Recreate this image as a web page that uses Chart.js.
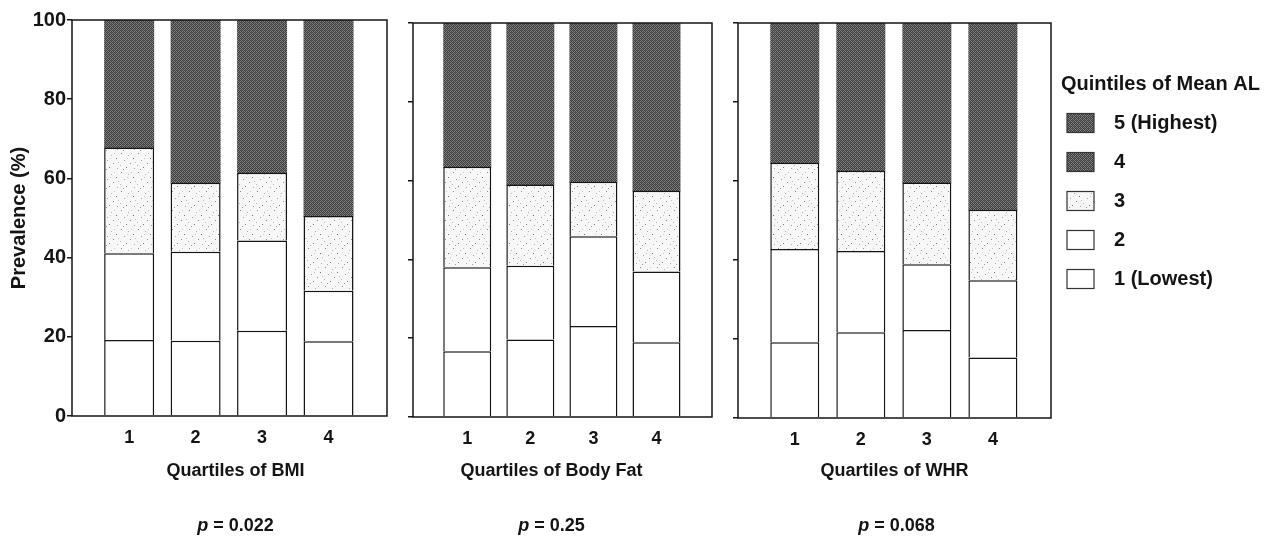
<!DOCTYPE html>
<html>
<head>
<meta charset="utf-8">
<script src="https://cdn.jsdelivr.net/npm/chart.js@4"></script>
<style>
  html, body { margin: 0; padding: 0; background: #fff; width: 1271px; height: 541px; overflow: hidden; }
  canvas { position: absolute; top: 0; }
</style>
</head>
<body>
<canvas id="bmi" style="left:0px" width="400" height="541"></canvas>
<canvas id="fat" style="left:400px" width="325" height="541"></canvas>
<canvas id="whr" style="left:725px" width="546" height="541"></canvas>
<script>
// Prevalence (%) of each mean-AL quintile, by quartile of adiposity measure
const quartiles = ['1', '2', '3', '4'];
const quintileLabels = ['1 (Lowest)', '2', '3', '4', '5 (Highest)'];
const legendTitle = 'Quintiles of Mean AL';
const panelTitles = ['Quartiles of BMI', 'Quartiles of Body Fat', 'Quartiles of WHR'];
const pValues = ['0.022', '0.25', '0.068'];
const yTickStep = 20;

// BMI
const bmiQ1 = [19.2, 19.0, 21.5, 18.9];
const bmiQ2 = [21.9, 22.5, 22.8, 12.7];
const bmiQ3 = [26.7, 17.4, 17.1, 18.9];
const bmiQ4 = [14.2, 20.1, 18.6, 24.5];
const bmiQ5 = [18.0, 21.0, 20.0, 25.0];

// Body fat
const fatQ1 = [16.7, 19.7, 23.1, 19.0];
const fatQ2 = [21.3, 18.7, 22.8, 17.9];
const fatQ3 = [25.5, 20.6, 13.8, 20.5];
const fatQ4 = [17.5, 20.0, 19.3, 21.6];
const fatQ5 = [19.0, 21.0, 21.0, 21.0];

// Waist-hip ratio
const whrQ1 = [19.2, 21.7, 22.3, 15.3];
const whrQ2 = [23.6, 20.6, 16.6, 19.6];
const whrQ3 = [21.8, 20.3, 20.7, 17.8];
const whrQ4 = [16.4, 17.4, 19.4, 23.3];
const whrQ5 = [19.0, 20.0, 21.0, 24.0];

const FONT = '"Liberation Sans", Arial, Helvetica, sans-serif';
const INK = '#141414';
Chart.defaults.font.family = FONT;
Chart.defaults.color = INK;

// Fill textures: a fine dithered dark grey and a sparse stipple
function ditherPattern() {
  const c = document.createElement('canvas');
  c.width = 4; c.height = 4;
  const g = c.getContext('2d');
  g.fillStyle = '#828282'; g.fillRect(0, 0, 4, 4);
  g.fillStyle = '#3e3e3e';
  for (let y = 0; y < 4; y++) for (let x = 0; x < 4; x++) if ((x + y) % 2 === 0) g.fillRect(x, y, 1, 1);
  g.fillStyle = '#5c5c5c'; g.fillRect(1, 2, 1, 1); g.fillRect(3, 0, 1, 1);
  return g.createPattern(c, 'repeat');
}
function stipplePattern() {
  const c = document.createElement('canvas');
  c.width = 17; c.height = 19;
  const g = c.getContext('2d');
  g.fillStyle = '#f7f7f7'; g.fillRect(0, 0, 17, 19);
  const dots = [[2,1,'#8a8a8a'],[9,3,'#b0b0b0'],[14,6,'#707070'],[5,8,'#a0a0a0'],[11,11,'#8c8c8c'],
                [1,13,'#b8b8b8'],[7,15,'#7a7a7a'],[15,16,'#a8a8a8'],[12,1,'#c4c4c4'],[4,17,'#9a9a9a'],
                [16,10,'#bdbdbd'],[8,6,'#c8c8c8']];
  for (const [x, y, col] of dots) { g.fillStyle = col; g.fillRect(x, y, 1, 1); }
  return g.createPattern(c, 'repeat');
}
const darkFill = ditherPattern();
const stippleFill = stipplePattern();
const fills = ['#ffffff', '#ffffff', stippleFill, darkFill, darkFill];

// Quintiles 4 and 5 share one dark fill; quintile 4 is inflated by a pixel
// (and narrowed to compensate) so no seam shows between the two.
function makeDatasets(series, thickness) {
  return series.map((vals, k) => {
    const ds = {
      label: quintileLabels[k],
      data: vals.map((v, i) => ({ x: i + 1, y: v })),
      backgroundColor: fills[k],
      borderColor: INK,
      borderWidth: k < 3 ? 1.5 : 0,
      borderSkipped: 'start',
      barThickness: thickness,
      inflateAmount: 0
    };
    if (k === 3) { ds.barThickness = thickness - 2; ds.inflateAmount = 1; }
    return ds;
  });
}

// Frame round the plotting area
const framePlugin = {
  id: 'frame',
  afterDatasetsDraw(chart) {
    const a = chart.chartArea, ctx = chart.ctx;
    ctx.save();
    ctx.strokeStyle = INK;
    ctx.lineWidth = 1.5;
    ctx.strokeRect(a.left, a.top, a.right - a.left, a.bottom - a.top);
    ctx.restore();
  }
};

// Axis caption and p-value under each panel
const captionPlugin = {
  id: 'caption',
  afterDraw(chart, args, opts) {
    const a = chart.chartArea, ctx = chart.ctx;
    const cx = (a.left + a.right) / 2;
    ctx.save();
    ctx.fillStyle = INK;
    ctx.textBaseline = 'middle';
    ctx.textAlign = 'center';
    ctx.font = 'bold 18px ' + FONT;
    ctx.fillText(opts.title, cx + opts.titleShift, opts.titleY);
    const pPart = 'p', rest = ' = ' + opts.p;
    ctx.font = 'italic bold 18px ' + FONT;
    const wp = ctx.measureText(pPart).width;
    ctx.font = 'bold 18px ' + FONT;
    const wr = ctx.measureText(rest).width;
    const x0 = cx + opts.pShift - (wp + wr) / 2;
    ctx.textAlign = 'left';
    ctx.font = 'italic bold 18px ' + FONT;
    ctx.fillText(pPart, x0, opts.pY);
    ctx.font = 'bold 18px ' + FONT;
    ctx.fillText(rest, x0 + wp, opts.pY);
    ctx.restore();
  }
};

// Legend block to the right of the last panel, listed from highest quintile down
const sideLegendPlugin = {
  id: 'sideLegend',
  afterDraw(chart, args, opts) {
    if (!opts.show) return;
    const ctx = chart.ctx;
    ctx.save();
    ctx.fillStyle = INK;
    ctx.textBaseline = 'middle';
    ctx.textAlign = 'left';
    ctx.font = 'bold 20px ' + FONT;
    ctx.fillText(legendTitle, opts.x - 6, opts.titleY);
    const sets = chart.data.datasets.slice().reverse();
    sets.forEach((ds, i) => {
      const cy = opts.firstY + i * opts.step;
      ctx.fillStyle = ds.backgroundColor;
      ctx.fillRect(opts.x, cy - 9.5, 27, 19);
      ctx.strokeStyle = '#333';
      ctx.lineWidth = 1.2;
      ctx.strokeRect(opts.x, cy - 9.5, 27, 19);
      ctx.fillStyle = INK;
      ctx.fillText(ds.label, opts.x + 47, cy);
    });
    ctx.restore();
  }
};

function makePanel(id, series, cfg) {
  return new Chart(document.getElementById(id), {
    type: 'bar',
    data: { datasets: makeDatasets(series, cfg.barThickness) },
    options: {
      responsive: false,
      animation: false,
      events: [],
      layout: { padding: { top: cfg.top, right: cfg.right, left: 0, bottom: 0 } },
      scales: {
        x: {
          type: 'linear',
          min: 0.14,
          max: 4.88,
          stacked: true,
          offset: false,
          grid: { display: false, drawTicks: false },
          border: { display: false },
          afterBuildTicks: s => { s.ticks = quartiles.map((q, i) => ({ value: i + 1 })); },
          ticks: {
            callback: v => quartiles[v - 1],
            font: { size: 18, weight: 'bold' },
            color: INK,
            padding: 11,
            maxRotation: 0,
            autoSkip: false
          },
          afterFit: s => { s.height = cfg.xHeight; }
        },
        y: {
          min: 0,
          max: 100,
          stacked: true,
          grid: { display: true, drawOnChartArea: false, drawTicks: true, tickLength: 5, color: INK, lineWidth: 1.5 },
          border: { display: false },
          ticks: {
            display: cfg.showYLabels,
            stepSize: yTickStep,
            font: { size: 20, weight: 'bold' },
            color: INK,
            padding: 1
          },
          title: {
            display: cfg.showYLabels,
            text: 'Prevalence (%)',
            font: { size: 20, weight: 'bold' },
            color: INK,
            padding: { top: 7, bottom: 0 }
          },
          afterFit: s => { s.width = cfg.yWidth; }
        }
      },
      plugins: {
        legend: { display: false },
        tooltip: { enabled: false },
        caption: {
          title: cfg.title, p: cfg.p,
          titleShift: cfg.titleShift, pShift: cfg.pShift,
          titleY: 471, pY: 526
        },
        sideLegend: { show: !!cfg.legend, x: 1067 - 725, titleY: 84, firstY: 123, step: 39 }
      }
    },
    plugins: [framePlugin, captionPlugin, sideLegendPlugin]
  });
}

makePanel('bmi', [bmiQ1, bmiQ2, bmiQ3, bmiQ4, bmiQ5], {
  barThickness: 50, top: 20, right: 13, xHeight: 125, yWidth: 72, showYLabels: true,
  title: panelTitles[0], p: pValues[0], titleShift: 6, pShift: 6
});
makePanel('fat', [fatQ1, fatQ2, fatQ3, fatQ4, fatQ5], {
  barThickness: 48, top: 23, right: 13, xHeight: 124, yWidth: 13, showYLabels: false,
  title: panelTitles[1], p: pValues[1], titleShift: -11, pShift: -11
});
makePanel('whr', [whrQ1, whrQ2, whrQ3, whrQ4, whrQ5], {
  barThickness: 49, top: 23, right: 220, xHeight: 123, yWidth: 13, showYLabels: false,
  title: panelTitles[2], p: pValues[2], titleShift: 0, pShift: 2, legend: true
});
</script>
</body>
</html>
